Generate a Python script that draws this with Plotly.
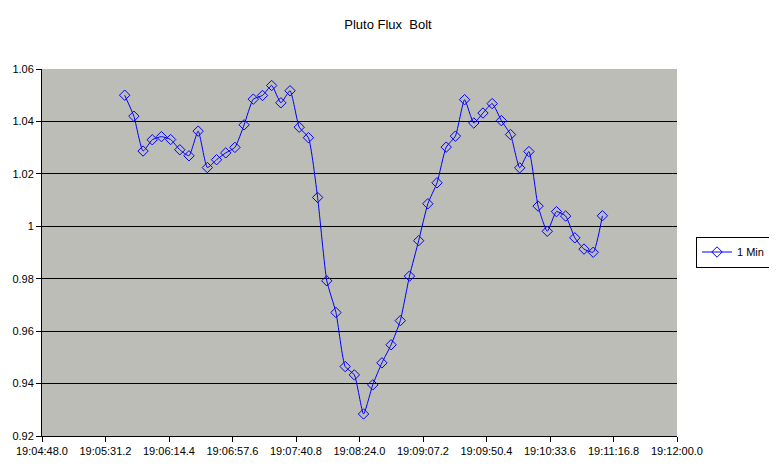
import plotly.graph_objects as go

# ---- data ----
times = [
    "19:05:44.25", "19:05:50.50", "19:05:56.75", "19:06:03.00", "19:06:09.25",
    "19:06:15.50", "19:06:21.75", "19:06:28.00", "19:06:34.25", "19:06:40.50",
    "19:06:46.75", "19:06:53.00", "19:06:59.25", "19:07:05.50", "19:07:11.75",
    "19:07:18.00", "19:07:24.25", "19:07:30.50", "19:07:36.75", "19:07:43.00",
    "19:07:49.25", "19:07:55.50", "19:08:01.75", "19:08:08.00", "19:08:14.25",
    "19:08:20.50", "19:08:26.75", "19:08:33.00", "19:08:39.25", "19:08:45.50",
    "19:08:51.75", "19:08:58.00", "19:09:04.25", "19:09:10.50", "19:09:16.75",
    "19:09:23.00", "19:09:29.25", "19:09:35.50", "19:09:41.75", "19:09:48.00",
    "19:09:54.25", "19:10:00.50", "19:10:06.75", "19:10:13.00", "19:10:19.25",
    "19:10:25.50", "19:10:31.75", "19:10:38.00", "19:10:44.25", "19:10:50.50",
    "19:10:56.75", "19:11:03.00", "19:11:09.25",
]
flux = [
    1.050, 1.042, 1.0287, 1.033, 1.0342, 1.0331, 1.0292, 1.0269, 1.0363, 1.0224,
    1.0254, 1.028, 1.0301, 1.0387, 1.0485, 1.0499, 1.0537, 1.0471, 1.0517, 1.0378,
    1.0338, 1.011, 0.9792, 0.9671, 0.9465, 0.9433, 0.9284, 0.9395, 0.9479, 0.9548,
    0.9640, 0.9810, 0.9945, 1.0086, 1.0166, 1.0302, 1.0344, 1.0483, 1.0394, 1.0432,
    1.0468, 1.0403, 1.0350, 1.0223, 1.0285, 1.0077, 0.9981, 1.0056, 1.0039, 0.9956,
    0.9913, 0.9901, 1.0040,
]
x_tick_labels = [
    "19:04:48.0", "19:05:31.2", "19:06:14.4", "19:06:57.6", "19:07:40.8", "19:08:24.0",
    "19:09:07.2", "19:09:50.4", "19:10:33.6", "19:11:16.8", "19:12:00.0",
]
y_ticks = [0.92, 0.94, 0.96, 0.98, 1.00, 1.02, 1.04, 1.06]
y_tick_labels = ["0.92", "0.94", "0.96", "0.98", "1", "1.02", "1.04", "1.06"]
series_name = "1 Min"
title = "Pluto Flux  Bolt"

DAY = "2000-01-01 "
x = [DAY + t for t in times]
x_tick_vals = [DAY + t for t in x_tick_labels]

FONT = "Liberation Sans, Arial, sans-serif"
W, H = 769, 467  # page body has an 8px margin

fig = go.Figure()
fig.add_trace(go.Scatter(
    x=x, y=flux, name=series_name, mode="lines+markers",
    line=dict(color="#0000ff", width=1, shape="spline", smoothing=0.5),
    marker=dict(symbol="diamond-open", size=8, color="#0000ff", line=dict(width=1)),
    showlegend=True,
))

fig.update_layout(
    width=W, height=H,
    margin=dict(l=34, r=100, t=61, b=39, autoexpand=False),
    paper_bgcolor="white",
    plot_bgcolor="#bdbdb7",
    font=dict(family=FONT, size=11, color="black"),
    title=dict(text=title, x=(388 - 8) / W, xref="container", xanchor="center",
               y=1 - 16 / H, yref="container", yanchor="middle",
               font=dict(family=FONT, size=13, color="black")),
    showlegend=True,
    legend=dict(xref="container", yref="container", x=(770 - 8) / W, y=1 - 244 / H,
                xanchor="right", yanchor="middle", bgcolor="white",
                bordercolor="black", borderwidth=1,
                font=dict(family=FONT, size=11, color="black"),
                itemwidth=30, tracegroupgap=0),
    xaxis=dict(
        type="date", automargin=False,
        range=[DAY + x_tick_labels[0], DAY + x_tick_labels[-1]],
        tickvals=x_tick_vals, ticktext=x_tick_labels,
        showgrid=False, zeroline=False,
        showline=True, linecolor="black", linewidth=1,
        ticks="outside", ticklen=5, tickcolor="black", tickwidth=1,
        tickfont=dict(family=FONT, size=11, color="black"),
    ),
    yaxis=dict(
        range=[0.92, 1.06], automargin=False,
        tickvals=y_ticks, ticktext=y_tick_labels,
        showgrid=True, gridcolor="black", gridwidth=1,
        zeroline=False,
        showline=True, linecolor="black", linewidth=1,
        ticks="outside", ticklen=5, tickcolor="black", tickwidth=1,
        tickfont=dict(family=FONT, size=11, color="black"),
    ),
)

fig.write_html("out.html")
